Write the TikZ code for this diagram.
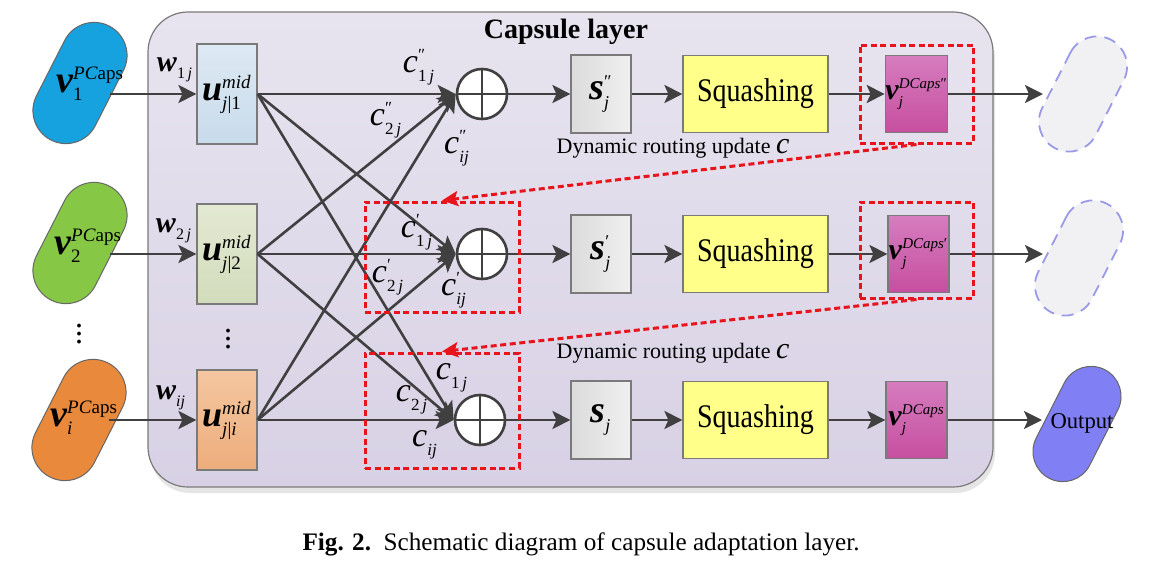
\documentclass[tikz,border=0pt]{standalone}
\usepackage{fontspec}
\setmainfont{Liberation Serif}
\newfontfamily\narrowserif{Liberation Serif}[FakeStretch=0.85]
\usetikzlibrary{arrows.meta,shadows}

\definecolor{linegray}{HTML}{404040}
\definecolor{boxgray}{HTML}{7A7A7A}
\definecolor{layertop}{HTML}{E7E4EF}
\definecolor{layerbot}{HTML}{D8D1E5}
\definecolor{pillblue}{HTML}{16A2DE}
\definecolor{pillgreen}{HTML}{86C846}
\definecolor{pillorange}{HTML}{E8893C}
\definecolor{outblue}{HTML}{8080F4}
\definecolor{ghostblue}{HTML}{9A9AE8}
\definecolor{ghostfill}{HTML}{F1F1F3}
\definecolor{uonetop}{HTML}{DDE9F3}
\definecolor{uonebot}{HTML}{C8DBEB}
\definecolor{utwotop}{HTML}{E3E9D2}
\definecolor{utwobot}{HTML}{D2DCBC}
\definecolor{uitop}{HTML}{F4C6A0}
\definecolor{uibot}{HTML}{EDAD7C}
\definecolor{sqyellow}{HTML}{FFFF8A}
\definecolor{vdtop}{HTML}{D67CBF}
\definecolor{vdbot}{HTML}{C64F9F}
\definecolor{routered}{HTML}{E8141B}

% letter with sub- and superscript: size, script size, letter, sub, sup
\newcommand{\capsym}[5]{{\fontsize{#1}{#1}\selectfont #3$^{\hbox{\fontsize{#2}{#2}\selectfont #5}}_{\hbox{\fontsize{#2}{#2}\selectfont #4}}$}}

\tikzset{
  conn/.style={draw=linegray, line width=1.3pt, -{Stealth[length=9pt,width=9pt,inset=2pt]}},
  redconn/.style={draw=routered, line width=1.5pt, dash pattern=on 3pt off 1.8pt, -{Stealth[length=8pt,width=7.5pt,inset=1.5pt]}},
  pill/.style={draw=linegray!80, line width=0.5pt, rounded corners=16.5pt, minimum width=64pt, minimum height=33pt, inner sep=0pt, rotate=63},
  outpill/.style={pill, rounded corners=15pt, minimum width=61pt, minimum height=30pt},
  ghostpill/.style={outpill, draw=ghostblue, fill=ghostfill, line width=0.9pt, dash pattern=on 6pt off 4pt},
  ubox/.style={draw=boxgray, line width=0.6pt, minimum width=30pt, minimum height=50pt, inner sep=0pt},
  sbox/.style={draw=boxgray, line width=0.6pt, left color=black!14, right color=black!6, minimum width=30pt, minimum height=39pt, inner sep=0pt},
  sqbox/.style={draw=boxgray, line width=0.6pt, fill=sqyellow, minimum width=72.5pt, minimum height=38.5pt, font=\narrowserif\fontsize{16.5}{18}\selectfont},
  vdbox/.style={draw=boxgray, line width=0.6pt, top color=vdtop, bottom color=vdbot, minimum width=30.5pt, minimum height=38.5pt, inner sep=0pt},
  sumnode/.style={circle, draw=linegray, line width=1.3pt, fill=white, minimum size=25pt, inner sep=0pt},
  redbox/.style={draw=routered, line width=1.5pt, dash pattern=on 3pt off 1.8pt, inner sep=0pt},
  layerbox/.style={draw=boxgray, line width=0.6pt, rounded corners=20pt, top color=layertop, bottom color=layerbot,
    drop shadow={shadow xshift=1pt, shadow yshift=-3pt, fill=black, opacity=0.1}},
}

\begin{document}
\begin{tikzpicture}[x=0.5pt, y=-0.5pt]
    \useasboundingbox (0,0) rectangle (1151,562);

    % capsule layer
    \draw[layerbox] (148,12) rectangle (993,487);
    \node (title) at (566,32) {\fontsize{14}{14}\selectfont\bfseries Capsule layer};

    % input capsules
    \node[pill, fill=pillblue] (p1) at (80,83) {};
    \node (lp1) at (90,84) {\capsym{19}{9.5}{\textbf{\textit{v}}}{1}{\textit{PC}aps}};
    \node[pill, fill=pillgreen] (p2) at (80,243) {};
    \node (lp2) at (88,246) {\capsym{19}{9.5}{\textbf{\textit{v}}}{2}{\textit{PC}aps}};
    \node (dots1) at (79,328) {\fontsize{16}{16}\selectfont$\vdots$};
    \node[pill, fill=pillorange] (pi) at (79,420) {};
    \node (lpi) at (84,418) {\capsym{19}{9.5}{\textbf{\textit{v}}}{\textit{i}}{\textit{PC}aps}};

    % prediction vectors
    \node[ubox, top color=uonetop, bottom color=uonebot] (u1) at (227,94) {\capsym{18}{9.5}{\textbf{\textit{u}}}{\textit{j}|1}{\textit{mid}}};
    \node[ubox, top color=utwotop, bottom color=utwobot] (u2) at (227,254) {\capsym{18}{9.5}{\textbf{\textit{u}}}{\textit{j}|2}{\textit{mid}}};
    \node (dots2) at (228,333) {\fontsize{16}{16}\selectfont$\vdots$};
    \node[ubox, top color=uitop, bottom color=uibot] (ui) at (227,420) {\capsym{18}{9.5}{\textbf{\textit{u}}}{\textit{j}|\textit{i}}{\textit{mid}}};

    \node (w1) at (175,70) {\capsym{15}{8}{\textbf{\textit{w}}}{1\,\textit{j}}{}};
    \node (w2) at (174,231) {\capsym{15}{8}{\textbf{\textit{w}}}{2\,\textit{j}}{}};
    \node (wi) at (171,398) {\capsym{15}{8}{\textbf{\textit{w}}}{\textit{ij}}{}};

    \draw[conn, shorten <=15pt] (p1.center |- u1.west) -- (u1.west);
    \draw[conn, shorten <=15pt] (p2.center |- u2.west) -- (u2.west);
    \draw[conn, shorten <=15pt] (pi.center |- ui.west) -- (ui.west);

    % weighted sums
    \node[sumnode] (s1) at (482,94) {};
    \node[sumnode] (s2) at (482,254) {};
    \node[sumnode] (s3) at (480,420) {};
    \draw[linegray, line width=1.3pt] (s1.north) -- (s1.south) (s1.west) -- (s1.east);
    \draw[linegray, line width=1.3pt] (s2.north) -- (s2.south) (s2.west) -- (s2.east);
    \draw[linegray, line width=1.3pt] (s3.north) -- (s3.south) (s3.west) -- (s3.east);

    \draw[conn] (u1.east) -- (s1.west);
    \draw[conn] (u1.east) -- (s2.west);
    \draw[conn] (u1.east) -- (s3.west);
    \draw[conn] (u2.east) -- (s1.west);
    \draw[conn] (u2.east) -- (s2.west);
    \draw[conn] (u2.east) -- (s3.west);
    \draw[conn] (ui.east) -- (s1.west);
    \draw[conn] (ui.east) -- (s2.west);
    \draw[conn] (ui.east) -- (s3.west);

    \node (cpp1) at (419,67) {\capsym{17}{8.5}{\textit{c}}{1\,\textit{j}}{″}};
    \node (cpp2) at (386,120) {\capsym{17}{8.5}{\textit{c}}{2\,\textit{j}}{″}};
    \node (cppi) at (457,148) {\capsym{17}{8.5}{\textit{c}}{\textit{ij}}{″}};
    \node (cp1) at (417,232) {\capsym{17}{8.5}{\textit{c}}{1\,\textit{j}}{′}};
    \node (cp2) at (388,277) {\capsym{17}{8.5}{\textit{c}}{2\,\textit{j}}{′}};
    \node (cpi) at (454,290) {\capsym{17}{8.5}{\textit{c}}{\textit{ij}}{′}};
    \node (c1) at (452,378) {\capsym{17}{8.5}{\textit{c}}{1\,\textit{j}}{}};
    \node (c2) at (412,400) {\capsym{17}{8.5}{\textit{c}}{2\,\textit{j}}{}};
    \node (ci) at (425,445) {\capsym{17}{8.5}{\textit{c}}{\textit{ij}}{}};

    % rows: s, squashing, output capsule
    \node[sbox] (sb1) at (601,94) {\capsym{19}{9}{\textbf{\textit{s}}}{\textit{j}}{″}};
    \node[sbox] (sb2) at (601,254) {\capsym{19}{9}{\textbf{\textit{s}}}{\textit{j}}{′}};
    \node[sbox] (sb3) at (601,420) {\capsym{19}{9}{\textbf{\textit{s}}}{\textit{j}}{}};
    \node[sqbox] (q1) at (755.5,94) {Squashing};
    \node[sqbox] (q2) at (755.5,254) {Squashing};
    \node[sqbox] (q3) at (755.5,420) {Squashing};
    \node[vdbox] (vd1) at (916.5,94) {\capsym{15}{7.5}{\textbf{\textit{v}}}{\textit{j}}{\textit{DCaps}″}};
    \node[vdbox] (vd2) at (918.5,254) {\capsym{15}{7.5}{\textbf{\textit{v}}}{\textit{j}}{\textit{DCaps}′}};
    \node[vdbox] (vd3) at (916.5,420) {\capsym{15}{7.5}{\textbf{\textit{v}}}{\textit{j}}{\textit{DCaps}}};

    \node[ghostpill] (o1) at (1083,94) {};
    \node[ghostpill] (o2) at (1079,258) {};
    \node[outpill, fill=outblue] (o3) at (1077,424) {};
    \node (lo3) at (1082,423) {\fontsize{11.3}{12}\selectfont Output};

    \draw[conn] (s1.east) -- (sb1.west);
    \draw[conn] (s2.east) -- (sb2.west);
    \draw[conn] (s3.east) -- (sb3.west);
    \draw[conn] (sb1.east) -- (q1.west);
    \draw[conn] (sb2.east) -- (q2.west);
    \draw[conn] (sb3.east) -- (q3.west);
    \draw[conn] (q1.east) -- (vd1.west);
    \draw[conn] (q2.east) -- (vd2.west);
    \draw[conn] (q3.east) -- (vd3.west);
    \draw[conn, shorten >=20pt] (vd1.east) -- (vd1.east -| o1.center);
    \draw[conn, shorten >=18pt] (vd2.east) -- (vd2.east -| o2.center);
    \draw[conn, shorten >=17.5pt] (vd3.east) -- (vd3.east -| o3.center);

    % routing feedback
    \node[redbox, minimum width=77pt, minimum height=55pt] (r2) at (442,257) {};
    \node[redbox, minimum width=77pt, minimum height=57.5pt] (r3) at (442,410.5) {};
    \node[redbox, minimum width=56.5pt, minimum height=49pt] (rv1) at (916.5,94) {};
    \node[redbox, minimum width=56.5pt, minimum height=48pt] (rv2) at (916.5,250) {};
    \draw[redconn] (rv1.south) -- (r2.north);
    \draw[redconn] (rv2.south) -- (r3.north);

    \node (dyn1) at (673,148) {\fontsize{11}{12}\selectfont Dynamic routing update {\fontsize{15}{15}\selectfont\itshape c}};
    \node (dyn2) at (673,353) {\fontsize{11}{12}\selectfont Dynamic routing update {\fontsize{15}{15}\selectfont\itshape c}};

    \node (caption) at (581,544) {\fontsize{12.6}{14}\selectfont\textbf{Fig. 2.}\ \ Schematic diagram of capsule adaptation layer.};
\end{tikzpicture}
\end{document}
